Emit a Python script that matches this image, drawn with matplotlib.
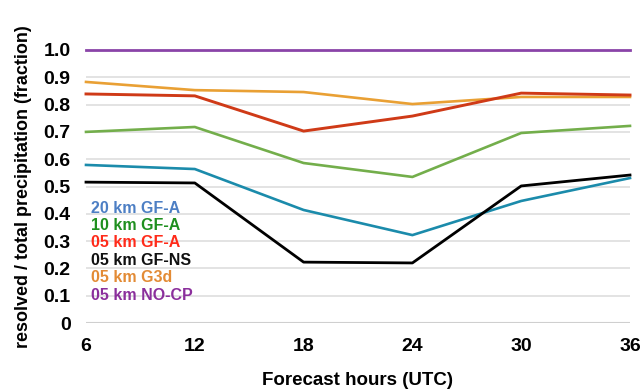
import matplotlib.pyplot as plt
import numpy as np

plt.rcParams['font.family'] = ['Liberation Sans', 'DejaVu Sans']
plt.rcParams['font.weight'] = 'bold'

hours = [6, 12, 18, 24, 30, 36]
gfa_20 = [0.579, 0.564, 0.414, 0.322, 0.447, 0.531]
gfa_10 = [0.700, 0.718, 0.586, 0.535, 0.696, 0.722]
gfa_05 = [0.839, 0.832, 0.703, 0.758, 0.842, 0.835]
gfns_05 = [0.516, 0.513, 0.223, 0.220, 0.502, 0.542]
g3d_05 = [0.883, 0.853, 0.846, 0.802, 0.828, 0.828]
nocp_05 = [1.0, 1.0, 1.0, 1.0, 1.0, 1.0]

labels = ['20 km GF-A', '10 km GF-A', '05 km GF-A', '05 km GF-NS', '05 km G3d', '05 km NO-CP']
label_colors = ['#4d7fc4', '#1f8f1f', '#ff2b1a', '#111111', '#e38b35', '#8b2f9c']

fig = plt.figure(figsize=(6.42, 3.91), dpi=100)
ax = fig.add_axes([86/642, 1-323/391, 544/642, 273/391])

# grid lines
for v in np.arange(0.1, 0.95, 0.1):
    ax.axhline(v, color='#dedede', lw=1.2, zorder=0)
ax.axhline(0, color='#cfcfcf', lw=1.5, zorder=0)

ax.plot(hours, g3d_05, color='#e9a034', lw=1.9, clip_on=False)
ax.plot(hours, gfa_05, color='#cf3a17', lw=2.1, clip_on=False)
ax.plot(hours, gfa_10, color='#73ae4b', lw=1.9, clip_on=False)
ax.plot(hours, gfa_20, color='#1b8bab', lw=1.9, clip_on=False)
ax.plot(hours, gfns_05, color='#000000', lw=2.0, clip_on=False)
ax.plot(hours, nocp_05, color='#8a44a8', lw=2.0, clip_on=False)

ax.set_xlim(6, 36)
ax.set_ylim(0, 1.0)
ax.set_xticks(hours)
ax.set_yticks(np.arange(0, 1.01, 0.1))
ax.set_yticklabels(['0'] + ['%.1f' % v for v in np.arange(0.1, 1.01, 0.1)])
ax.tick_params(length=0, labelsize=14)
ax.tick_params(axis='y', pad=11)
ax.tick_params(axis='x', pad=11)
for s in ax.spines.values():
    s.set_visible(False)

ax.set_xlabel('Forecast hours (UTC)', fontsize=13.5, fontweight='bold', labelpad=12)
ax.set_ylabel('resolved / total precipitation (fraction)', fontsize=13, fontweight='bold', labelpad=8)

# legend as coloured text
for i, (lab, c) in enumerate(zip(labels, label_colors)):
    fig.text(91/642, 1-(208+17.4*i)/391, lab, color=c, fontsize=11.5, fontweight='bold', va='center')

plt.savefig('out.png', dpi=100)
